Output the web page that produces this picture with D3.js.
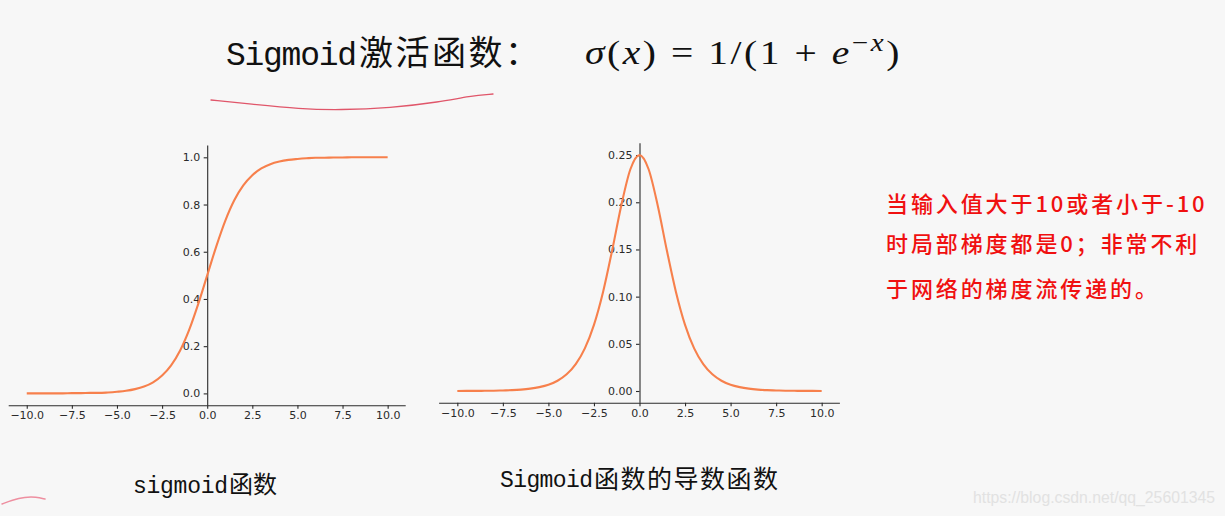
<!DOCTYPE html>
<html>
<head>
<meta charset="utf-8">
<script src="https://cdn.jsdelivr.net/npm/d3@7/dist/d3.min.js"></script>
<style>
  html, body { margin: 0; padding: 0; background: #f7f7f7; }
  svg { display: block; }
</style>
</head>
<body>
<svg id="chart" width="1225" height="516"></svg>
<script>
// ---------------- data ----------------
const xValues = [-10, -9.5, -9, -8.5, -8, -7.5, -7, -6.5, -6, -5.5, -5, -4.5, -4, -3.5, -3, -2.5, -2, -1.5, -1, -0.5,
  0, 0.5, 1, 1.5, 2, 2.5, 3, 3.5, 4, 4.5, 5, 5.5, 6, 6.5, 7, 7.5, 8, 8.5, 9, 9.5, 10];
const sigmoidValues = [0.000, 0.000, 0.000, 0.000, 0.000, 0.001, 0.001, 0.002, 0.002, 0.004, 0.007, 0.011, 0.018, 0.029, 0.047, 0.076, 0.119, 0.182, 0.269, 0.378,
  0.500, 0.622, 0.731, 0.818, 0.881, 0.924, 0.953, 0.971, 0.982, 0.989, 0.993, 0.996, 0.998, 0.998, 0.999, 0.999, 1.000, 1.000, 1.000, 1.000, 1.000];
const derivativeValues = [0.0000, 0.0001, 0.0001, 0.0002, 0.0003, 0.0006, 0.0009, 0.0015, 0.0025, 0.0041, 0.0066, 0.0109, 0.0177, 0.0285, 0.0452, 0.0701, 0.1050, 0.1491, 0.1966, 0.2350,
  0.2500, 0.2350, 0.1966, 0.1491, 0.1050, 0.0701, 0.0452, 0.0285, 0.0177, 0.0109, 0.0066, 0.0041, 0.0025, 0.0015, 0.0009, 0.0006, 0.0003, 0.0002, 0.0001, 0.0001, 0.0000];
const xTicks = [-10, -7.5, -5, -2.5, 0, 2.5, 5, 7.5, 10];
const sigmoidYTicks = [0, 0.2, 0.4, 0.6, 0.8, 1.0];
const derivativeYTicks = [0, 0.05, 0.10, 0.15, 0.20, 0.25];

const titleLatin = "Sigmoid";
const titleCJK = "激活函数：";
const caption1Latin = "sigmoid";
const caption1CJK = "函数";
const caption2Latin = "Sigmoid";
const caption2CJK = "函数的导数函数";
const noteLines = ["当输入值大于10或者小于-10", "时局部梯度都是0；非常不利", "于网络的梯度流传递的。"];
const watermark = "https://blog.csdn.net/qq_25601345";

// hand-drawn annotation strokes
const underlineStroke = [[211, 100], [250, 104], [300, 109], [340, 110], [390, 108], [440, 102], [470, 96], [493, 94]];
const cornerStroke = [[2, 504], [12, 500], [25, 497], [36, 497], [45, 499]];

// ---------------- drawing ----------------
const svg = d3.select("#chart");
svg.append("rect").attr("width", 1225).attr("height", 516).attr("fill", "#f7f7f7");

const lineColor = "#f7804c";
const axisColor = "#2b2b2b";
const tickFont = "'DejaVu Sans', sans-serif";

function drawPanel(cfg) {
  const x = d3.scaleLinear().domain([-11, 11]).range([cfg.x0, cfg.x1]);
  const y = d3.scaleLinear().domain(cfg.yDomain).range([cfg.yBottom, cfg.yTop]);
  const g = svg.append("g");

  const xAxis = d3.axisBottom(x).tickValues(xTicks).tickFormat(d3.format(".1f"))
    .tickSize(3.5).tickPadding(3);
  const gx = g.append("g").attr("transform", `translate(0,${cfg.yBottom})`).call(xAxis);
  gx.select(".domain").attr("d", `M${cfg.x0},0.5H${cfg.x1}`);

  const yAxis = d3.axisLeft(y).tickValues(cfg.yTicks).tickFormat(d3.format(cfg.yFmt))
    .tickSize(3.5).tickPadding(3.5);
  const gy = g.append("g").attr("transform", `translate(${x(0)},0)`).call(yAxis);
  gy.select(".domain").attr("d", `M0.5,${cfg.yBottom}V${cfg.yTop}`);

  [gx, gy].forEach(a => {
    a.selectAll(".domain, .tick line").attr("stroke", axisColor).attr("stroke-width", 1.1);
    a.selectAll(".tick text").attr("fill", "#2a2a2a").attr("font-size", 11).attr("font-family", tickFont);
  });

  const pts = xValues.map((v, i) => [v, cfg.values[i]]);
  const line = d3.line().x(d => x(d[0])).y(d => y(d[1])).curve(d3.curveMonotoneX);
  g.append("path").datum(pts).attr("d", line)
    .attr("fill", "none").attr("stroke", lineColor).attr("stroke-width", 2.1)
    .attr("stroke-linejoin", "round");
}

drawPanel({ x0: 8.7, x1: 405.7, yTop: 145.5, yBottom: 405.2, yDomain: [-0.05, 1.05],
  yTicks: sigmoidYTicks, yFmt: ".1f", values: sigmoidValues });
drawPanel({ x0: 439.1, x1: 839.9, yTop: 143.3, yBottom: 402.8, yDomain: [-0.0125, 0.2625],
  yTicks: derivativeYTicks, yFmt: ".2f", values: derivativeValues });

// ---------------- title ----------------
const cjk = "'Noto Sans CJK SC', sans-serif";
const mono = "'Liberation Mono', 'DejaVu Sans Mono', monospace";
svg.append("text").attr("x", 226).attr("y", 65).attr("font-family", mono).attr("font-size", 33)
  .attr("fill", "#111").attr("textLength", 131).attr("lengthAdjust", "spacing").text(titleLatin);
svg.append("text").attr("x", 359).attr("y", 65).attr("font-family", cjk).attr("font-size", 34)
  .attr("fill", "#111").attr("letter-spacing", 2.5).text(titleCJK);

// formula  σ(x) = 1/(1 + e^{−x}) — one text, fitted to the width seen in the picture
const serif = "'Liberation Serif', 'DejaVu Serif', serif";
const ft = svg.append("text").attr("x", 0).attr("y", 64).attr("font-family", serif)
  .attr("font-size", 34).attr("letter-spacing", 2.2).attr("fill", "#111").attr("xml:space", "preserve");
ft.append("tspan").attr("font-style", "italic").text("σ");
ft.append("tspan").text("(");
ft.append("tspan").attr("font-style", "italic").text("x");
ft.append("tspan").text(") = 1/(1 + ");
ft.append("tspan").attr("font-style", "italic").text("e");
ft.append("tspan").attr("dy", -13).attr("font-size", 25).text("−");
ft.append("tspan").attr("font-size", 25).attr("font-style", "italic").text("x");
ft.append("tspan").attr("dy", 13).text(")");
const fb = ft.node().getBBox();
const sx = 317 / fb.width;
ft.attr("transform", `translate(${585 - fb.x * sx},0) scale(${sx},1)`);

// ---------------- captions ----------------
svg.append("text").attr("x", 133).attr("y", 493).attr("font-family", mono).attr("font-size", 23)
  .attr("fill", "#111").attr("textLength", 95).attr("lengthAdjust", "spacing").text(caption1Latin);
svg.append("text").attr("x", 229).attr("y", 493).attr("font-family", cjk).attr("font-size", 24)
  .attr("fill", "#111").text(caption1CJK);
svg.append("text").attr("x", 500).attr("y", 487).attr("font-family", mono).attr("font-size", 23)
  .attr("fill", "#111").attr("textLength", 93).attr("lengthAdjust", "spacing").text(caption2Latin);
svg.append("text").attr("x", 594).attr("y", 488).attr("font-family", cjk).attr("font-size", 25)
  .attr("fill", "#111").attr("letter-spacing", 1.5).text(caption2CJK);

// ---------------- red note ----------------
const noteY = [212, 252, 297];
noteLines.forEach((s, i) => {
  svg.append("text").attr("x", 886).attr("y", noteY[i]).attr("font-family", cjk)
    .attr("font-size", 22).attr("font-weight", 500).attr("letter-spacing", 2.9)
    .attr("fill", "#f01010").text(s);
});

// watermark
svg.append("text").attr("x", 973).attr("y", 503).attr("font-family", "'Liberation Sans', Arial, sans-serif")
  .attr("font-size", 16).attr("fill", "#e2e2e2").attr("textLength", 242).attr("lengthAdjust", "spacingAndGlyphs")
  .text(watermark);

// ---------------- hand strokes ----------------
const stroke = d3.line().curve(d3.curveBasis);
svg.append("path").attr("d", stroke(underlineStroke)).attr("fill", "none")
  .attr("stroke", "#e0566a").attr("stroke-width", 1.3).attr("stroke-linecap", "round");
svg.append("path").attr("d", stroke(cornerStroke)).attr("fill", "none")
  .attr("stroke", "#ee8fa0").attr("stroke-width", 1.5).attr("stroke-linecap", "round");
</script>
</body>
</html>
